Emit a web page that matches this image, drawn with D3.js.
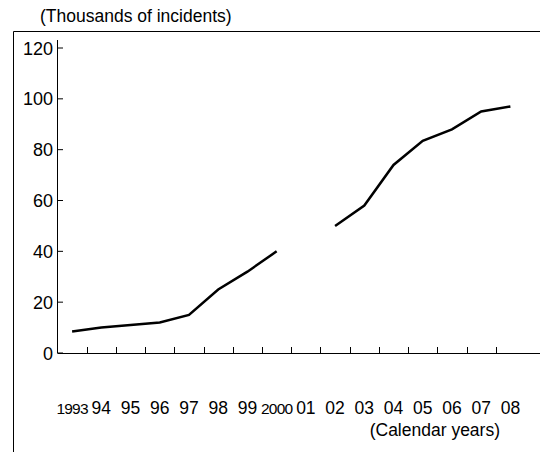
<!DOCTYPE html>
<html><head><meta charset="utf-8">
<script src="https://cdn.jsdelivr.net/npm/d3@7"></script>
<style>body{margin:0;background:#fff}text{font-family:"Liberation Sans",Arial,sans-serif;fill:#000}</style>
</head><body><svg id="c" width="540" height="452"></svg>
<script>
const years = ["1993","94","95","96","97","98","99","2000","01","02","03","04","05","06","07","08"];
const incidents = [8.5, 10, 11, 12, 15, 25, 32, 40, null, 50, 58, 74, 83.5, 88, 95, 97];
const yTicks = [0, 20, 40, 60, 80, 100, 120];

const svg = d3.select("#c");
const x = d3.scaleBand().domain(years).range([57.5, 525]);
const y = d3.scaleLinear().domain([0, 120]).range([353, 48]);

// frame
svg.append("path").attr("d", "M13.5,452V31.5H540").attr("fill", "none").attr("stroke", "#000");

svg.append("text").attr("x", 40).attr("y", 22).attr("font-size", 17.5).text("(Thousands of incidents)");

// y axis
svg.append("line").attr("x1", 57.5).attr("x2", 57.5).attr("y1", 40).attr("y2", 353).attr("stroke", "#000");
yTicks.forEach(v => {
  svg.append("line").attr("x1", 57.5).attr("x2", 63).attr("y1", y(v)).attr("y2", y(v)).attr("stroke", "#000");
  svg.append("text").attr("x", 53).attr("y", y(v) + 6.5).attr("font-size", 18).attr("text-anchor", "end").text(v);
});

// x axis
svg.append("line").attr("x1", 57.5).attr("x2", 540).attr("y1", 353.5).attr("y2", 353.5).attr("stroke", "#000");
years.slice(1).forEach(yr => {
  const xt = Math.round(x(yr)) + 0.5;
  svg.append("line").attr("x1", xt).attr("x2", xt).attr("y1", 347).attr("y2", 353).attr("stroke", "#000");
});
years.forEach(yr => {
  const long = yr.length === 4;
  svg.append("text").attr("x", x(yr) + x.bandwidth() / 2).attr("y", 414)
    .attr("font-size", long ? 15.5 : 17.5).attr("letter-spacing", long ? -0.8 : 0)
    .attr("text-anchor", "middle").text(yr);
});
svg.append("text").attr("x", 500).attr("y", 436).attr("font-size", 17.5).attr("text-anchor", "end").text("(Calendar years)");

// line
const line = d3.line().defined(d => d.v !== null)
  .x(d => x(d.year) + x.bandwidth() / 2).y(d => y(d.v));
svg.append("path").datum(years.map((yr, i) => ({ year: yr, v: incidents[i] })))
  .attr("d", line).attr("fill", "none").attr("stroke", "#000").attr("stroke-width", 2.5);
</script></body></html>
